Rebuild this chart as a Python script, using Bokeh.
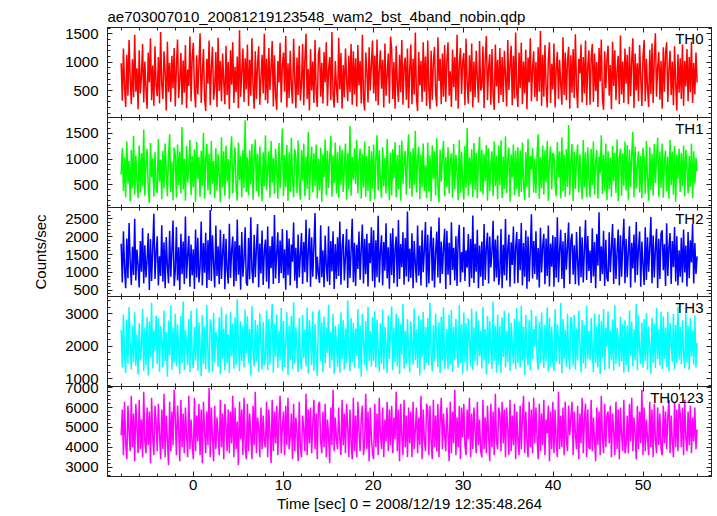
import numpy as np
from bokeh.plotting import figure
from bokeh.layouts import column
from bokeh.models import Range1d, LinearAxis, SingleIntervalTicker, Label
from bokeh.embed import file_html
from bokeh.resources import INLINE

TITLE = "ae703007010_20081219123548_wam2_bst_4band_nobin.qdp"
XLABEL = "Time [sec] 0 = 2008/12/19 12:35:48.264"
YLABEL = "Counts/sec"
band_names = ["TH0", "TH1", "TH2", "TH3", "TH0123"]
band_colors = ["#ff0000", "#00ff00", "#0000ff", "#00ffff", "#ff00ff"]
t_start, t_end = -8.0, 56.0
x_limits = (-9.52, 57.6)
y_limits = [(25, 1610), (60, 1805), (330, 2812), (763, 3532), (2530, 7065)]
y_major = [500, 500, 500, 1000, 1000]
x_major = 10

th0 = np.array("""
980 320 1240 560 210 1130 410 1390 700 260 1050 380 1480 480 890 170
1210 450 760 1320 290 1010 520 180 1170 640 1420 330 940 230 1280 590
400 1090 270 1530 610 350 1190 820 150 1360 470 990 300 1110 540 1250
220 930 1400 370 680 1160 250 1030 460 1300 190 870 580 1450 310 1080
1340 510 200 1120 430 970 1510 280 790 1230 360 140 1060 620 1380 240
900 1270 340 560 1180 210 1430 490 1020 310 1150 660 260 1290 420 1000
170 1210 600 1350 280 920 470 1100 190 1560 390 830 1240 300 1070 520
1310 230 1040 410 1420 580 180 1190 350 960 1280 250 720 1130 450 1500
330 1060 270 1250 510 890 1370 220 1120 430 160 1020 640 1340 290 940
1170 480 1460 200 980 370 1200 560 270 1410 740 190 1080 420 1290 320
610 1320 240 1050 1500 350 880 150 1230 500 1010 280 1390 460 210 1140
1260 390 990 270 1180 640 1350 230 870 1090 330 1530 410 200 1020 560
280 1430 520 1160 180 950 380 1240 700 310 1110 470 1320 250 1190 430
1070 220 1300 590 1020 270 1480 360 150 1170 830 290 1260 500 960 1380
450 1110 310 1400 240 860 1210 530 1040 200 1330 410 780 1150 270 1450
1220 350 1000 180 1290 620 300 1130 470 1390 250 920 1080 340 1240 190
870 1310 260 1060 430 1520 370 140 1180 590 1020 300 1350 480 1100 230
1380 510 170 1200 340 990 1270 450 220 1440 670 1060 260 1150 390 1300
300 1030 1350 410 840 210 1220 560 1090 320 1480 180 960 1250 440 1010
1160 240 1410 630 270 1120 480 1330 200 1010 380 1200 720 290 1370 500
560 1280 190 1050 1460 330 900 1140 250 1230 430 160 1310 570 1040 280
1250 420 1090 300 1200 760 220 1390 510 950 1290 240 1110 360 1520 470
210 1170 540 1340 260 1010 450 1220 170 1080 640 1420 310 880 1190 380
1000 310 1260 480 1550 230 1130 390 1300 570 200 1050 1350 280 970 520
1330 200 890 1180 350 1040 610 250 1440 420 1170 330 1020 1270 180 1120
460 1230 370 1490 560 190 1060 800 1310 290 1090 450 1380 240 930 1210
250 1080 1320 300 1150 490 1000 210 1250 660 1400 350 160 1190 540 1040
1290 410 950 170 1360 580 1210 330 860 1110 260 1470 430 1010 280 1240
620 1130 260 1270 400 1030 1420 190 1150 500 980 310 1300 720 230 1100
1390 310 1060 550 210 1220 440 1330 280 1070 1510 390 900 1180 340 1020
180 1260 480 1160 1350 300 870 1200 420 1010 240 1280 610 150 1140 460
1070 350 1310 230 1020 570 1230 310 1090 470 1360 280 990 430 1170 640
""".split(), dtype=float)

th1 = np.array("""
700 1210 380 1030 260 1340 520 960 180 1180 430 1450 310 1070 590 240
1260 350 1110 470 1570 290 880 1200 410 150 1310 640 1020 270 1130 460
340 1390 560 990 220 1160 430 1300 760 280 1050 1480 360 950 200 1220
1080 250 1280 490 1140 330 1620 410 1010 190 1250 540 850 1370 300 1060
450 1190 170 1330 620 1040 270 1160 480 1510 230 980 1290 390 1100 310
1350 520 960 240 1210 390 1090 700 160 1420 450 1150 290 1260 560 1000
220 1120 1440 330 870 1230 420 190 1320 590 1060 260 1180 440 1750 360
1030 300 1170 510 1290 210 990 1380 380 1100 270 1240 660 180 1130 470
1460 400 820 1150 250 1350 540 1020 320 1200 780 230 1310 430 970 1590
280 1080 460 1270 190 1130 370 1410 600 260 1190 1030 340 1360 500 210
1170 580 1300 280 1050 420 1530 200 900 1240 350 1110 470 1280 240 1010
390 1220 170 1090 640 1380 300 1160 440 990 1450 270 1070 530 1320 330
1130 250 1260 490 1180 360 820 1300 210 1120 410 1640 290 1040 600 1210
510 1370 330 970 1200 230 1100 450 1340 270 1060 380 1250 180 1150 420
1280 220 1010 1460 390 1170 560 250 1230 470 1020 330 1390 710 200 1120
300 1190 630 1330 260 1080 410 1270 190 1360 520 950 1160 310 1050 1480
430 1140 270 1210 500 1550 350 1000 1240 220 1090 450 1300 380 880 240
1320 370 1070 180 1260 620 1150 300 1400 480 160 1180 560 1030 1350 280
1040 460 1230 330 960 1110 250 1290 410 1080 740 200 1370 340 1140 520
210 1250 440 1600 290 1030 510 1190 260 1310 400 1120 240 1000 1430 370
1180 310 1100 570 1270 190 1210 380 880 1150 280 1340 470 1070 220 1260
490 1360 240 1050 420 1440 330 990 1220 170 1090 640 1280 300 1160 410
1230 270 1170 360 1320 520 200 1130 460 1390 250 1060 800 1210 350 1010
340 1100 1480 230 1040 430 1260 310 1170 550 1350 190 1000 1240 410 1120
1070 500 280 1330 640 1150 240 1420 380 1080 270 1190 460 1660 300 950
1290 180 1140 420 1010 1280 350 1090 540 220 1370 450 1130 260 1230 590
260 1200 490 1340 310 960 1170 230 1050 720 1460 320 1080 390 1300 200
1150 410 1030 270 1250 570 1120 340 1380 180 1010 1200 290 1110 480 1340
390 1270 210 1180 460 1090 1530 260 1240 430 870 1150 350 1060 240 1220
1010 320 1350 600 190 1230 400 1100 290 1290 530 1020 1410 270 1140 440
1300 250 940 1160 370 1050 230 1370 490 1140 310 1250 170 1090 620 1200
360 1110 470 1260 280 1180 830 330 1060 460 1300 240 1150 520 1030 760
""".split(), dtype=float)

th2 = np.array("""
1800 720 2150 1100 560 1950 840 2380 1300 650 1720 930 2500 780 1640 1200
580 1880 1020 2240 690 1760 860 1350 2090 510 1930 760 1680 2640 820 1540
2010 640 1450 900 2320 740 1840 560 1990 1180 700 2160 880 1610 2450 620
1040 2270 780 1700 510 2080 950 1860 680 2560 830 1490 2020 600 1780 920
1650 540 2200 860 1970 720 1150 2420 640 1820 990 2110 570 1900 790 2740
760 2040 1250 580 2310 900 1730 670 2190 820 1560 2070 530 1940 1080 690
2360 850 1620 2000 610 1870 760 2480 940 1760 520 2130 880 1380 2260 710
630 1960 810 2540 1060 700 2050 870 1680 2350 590 1810 970 2170 650 1590
1920 740 2280 550 1740 1120 2010 680 2600 830 1530 2120 710 1890 980 2210
840 1650 520 2180 920 1950 640 1780 1300 2390 770 1690 560 2060 860 1500
2100 680 1850 1010 2470 730 1590 2230 600 1980 880 1720 2660 810 1440 940
710 2320 870 1620 590 2030 1180 750 2290 650 1880 1030 2150 540 1790 820
1980 900 2420 660 1710 2070 780 1430 2210 570 1920 850 1600 2500 730 1830
620 1770 1100 2140 800 1660 2340 690 1940 950 2080 610 1820 1260 2260 760
2180 580 1900 870 2580 720 1580 2040 640 1850 1050 2370 830 1700 550 2090
930 2230 700 1640 2000 600 2460 820 1790 1150 2120 660 1960 890 2700 740
1670 850 2090 560 1880 1240 720 2310 910 1750 640 2180 1010 1620 2410 590
2050 690 1730 2280 770 1970 580 1560 2140 860 2530 700 1860 960 1680 2220
540 2160 940 1830 650 2400 1070 1690 780 2010 620 1910 2330 730 1570 1000
2270 760 1620 1130 2070 600 1940 840 2590 710 1800 1020 2190 560 1750 880
1860 620 2350 800 1690 2110 690 2000 1140 1580 2440 750 1920 860 2030 650
970 2210 560 1770 920 2490 780 1650 2060 600 1840 1210 2280 690 1710 2130
710 1930 1060 2380 640 1820 880 2170 550 2000 740 1590 2620 830 1880 960
2150 800 1680 580 2250 1000 1740 2080 670 1950 900 2310 610 1810 1160 2040
600 1990 850 2540 730 1620 2190 820 1870 560 2100 1080 1700 2390 680 1900
2080 940 1760 670 2130 1270 640 2280 870 1980 720 1650 2460 790 2020 1040
1610 710 2230 890 1850 560 2070 1190 2680 760 1730 950 2160 620 1910 840
750 2120 1010 1690 2350 680 1960 820 1580 2200 640 2040 880 1770 2500 700
1940 870 1600 2290 580 1830 1110 2060 720 2410 930 1670 2140 600 1860 1220
650 2260 790 1980 1020 1720 2550 700 2030 860 1640 2220 570 1940 820 2090
2180 1060 1790 620 2370 900 1710 2100 680 1880 1150 2270 750 2010 640 1620
880 1970 720 2200 1000 1750 610 2130 840 1900 1280 2350 690 1820 960 1450
""".split(), dtype=float)

th3 = np.array("""
2500 1350 2980 1700 1180 2820 1460 3210 2050 1290 2640 1520 3050 1400 2370 1130
2710 1570 1960 3150 1240 2580 1410 2900 1100 2760 1650 3340 1320 2490 1880 2950
1450 2870 1210 2620 2150 1360 3100 1530 2440 1060 2790 1720 3260 1280 2560 1500
3000 1390 2680 1820 1150 2930 1480 3380 1270 2510 2040 1420 2850 1200 3090 1630
1330 2590 1560 3170 1250 2740 1960 1080 2960 1440 2610 1300 3270 1780 1190 2830
2640 1220 3030 1510 2450 2210 1370 2890 1140 3200 1600 2550 1260 2990 1470 2380
1170 3060 1690 2700 1310 2890 1430 3450 2110 1230 2770 1540 2620 1350 3130 1780
2920 1480 2530 1100 3240 1850 1380 2810 1520 2660 1200 3020 2000 1290 2750 1410
1620 3110 1260 2850 1450 2570 3300 1190 2700 1680 2980 1340 2490 1560 3180 1240
2780 1360 2150 3050 1120 2640 1590 2930 1300 3360 1470 2580 1900 1210 2880 1500
1280 2960 1640 2520 1390 3190 1160 2800 2260 1420 3070 1250 2690 1730 1090 3000
3120 1530 2740 1200 2910 1460 2580 1790 3280 1330 2450 1570 2990 1140 2620 2080
1370 2680 1190 3040 1600 2800 1280 2550 1480 3410 1820 1230 2870 1510 2720 1340
2550 1700 3150 1310 2640 1060 2990 2170 1420 2780 1250 3220 1550 2470 1380 2900
1540 3080 1350 2820 1930 1220 2710 1460 3130 1290 2600 2020 1170 2950 1610 2510
3230 1260 2560 1500 3010 1390 2870 1150 2690 1740 3310 1310 2480 1450 2840 1870
1200 2760 2090 1430 3170 1580 2520 1330 2940 1100 2820 1650 3060 1270 2590 1490
2880 1410 3350 1720 1230 2650 1520 3000 2130 1360 2740 1180 2910 1560 3200 1300
1660 2530 1290 2970 1440 3120 1210 2600 1580 2850 1800 1340 3270 1470 2680 1150
3040 1500 2710 1240 2860 2200 1380 3160 1270 2570 1530 3080 1410 2790 1690 2480
1320 3210 1580 2540 1130 2930 1460 2780 1950 1300 3370 1550 2630 1190 2970 1420
2620 1180 2890 1670 3100 1350 2480 1510 3030 1240 2720 2060 1460 2850 1300 3180
1490 2760 1350 3250 1560 2590 1120 2960 1770 1410 2800 1260 3120 1600 2530 1990
2930 1630 1270 2750 1480 3040 1910 1330 2660 1540 3190 1220 2880 1380 2600 1510
1250 3150 1520 2680 2230 1440 3330 1170 2840 1620 2510 1370 3000 1730 1280 2900
2700 1400 2960 1290 2550 1560 3090 2040 1200 2810 1470 2650 1310 3240 1600 2480
1560 2870 1850 1210 3010 1480 2620 1350 2980 1140 2770 1640 3150 1270 2560 1990
3070 1310 2490 1590 2830 1250 3260 1460 2570 2150 1370 2910 1530 2680 1190 2800
1420 2640 1210 3110 1700 2760 1380 2520 1570 3300 1260 2950 1860 1450 2730 1330
2840 1540 3020 1280 2610 1970 1150 2880 1490 2690 1330 3180 1610 2540 1410 3070
1300 2920 1610 2570 1360 3060 1230 2720 2110 1520 2990 1280 2660 1470 3220 1590
2590 1450 2800 1760 1320 3010 1500 2630 1270 2860 1680 2500 1430 2940 1350 2100
""".split(), dtype=float)

th0123 = np.array("""
4600 5900 3600 6300 4200 3400 6100 4800 3800 6600 4000 5700 3300 6200 5000 3700
6400 3900 5400 3500 6800 4300 3700 6000 4100 5800 3200 6500 4500 3600 6100 5200
3800 6200 4700 3400 5900 3900 6700 3500 5600 4400 3100 6300 3800 5800 4100 6900
5500 3600 6100 4900 3300 6400 4000 5700 3700 6000 4600 3500 6600 3900 5400 4200
3400 6500 3800 5600 4300 6200 3600 5900 3200 6300 4800 3700 5800 4100 7000 3500
6000 4500 3300 6100 3900 5500 4700 3600 6400 4000 5700 3400 6200 5100 3800 5900
3700 5800 4200 6600 3500 6000 3900 5300 3100 6300 4400 5900 3600 6500 4000 3400
6200 3800 5700 4600 3400 6100 4100 6800 3700 5500 5000 3500 6000 3900 5600 4300
4000 6300 3500 5900 4800 3200 6400 3800 5800 4200 6100 3600 5400 6600 3700 5000
5800 3600 6100 4100 6500 3900 4500 5700 3400 6200 3800 5500 4700 3300 6300 4000
3500 5600 4900 3800 6700 3600 5900 4200 6000 3700 5200 6400 3900 5700 3400 6100
6300 4300 3700 5800 4000 6200 3500 5400 4600 3200 6000 4100 6900 3800 5500 4400
3900 6000 4400 3600 6400 4100 5700 3700 6200 5000 3500 5900 4200 3400 6500 3800
5600 3500 6300 4800 3800 5500 6100 3600 4200 6700 3900 5800 3300 6000 4500 3700
3400 6200 4000 5700 3600 6500 4700 3900 6000 3500 5400 4300 6300 3800 5900 4100
6100 3700 5500 4400 6800 3800 5900 3300 6200 4600 3600 6400 4000 5600 3500 6000
4200 5800 3500 6300 3900 4900 6000 3700 5500 4100 6600 3400 5900 4400 3800 6200
5900 3600 6100 4300 3400 6400 4000 5600 3800 6200 3500 5300 6500 3900 5700 4600
3800 6000 4700 3300 6300 3700 5800 4200 6900 3600 5500 4000 6100 3400 6000 4500
6200 4100 3600 5900 4400 6500 3500 5700 3900 6000 4800 3700 6300 4100 5400 3800
3500 6400 3900 5500 3700 6100 4600 3300 6200 4000 5800 3600 6700 4300 3900 6000
5700 3800 6300 4200 5900 3500 6000 4900 3600 6400 3800 5600 4100 6200 3400 5800
4400 3600 6100 3900 5500 6600 3700 5800 4300 3500 6300 4000 5900 3700 6500 4200
6000 4500 3400 6200 3800 5700 4100 6400 3600 5400 4700 6100 3300 5800 3900 6300
3700 5900 4300 3500 6800 3900 5600 4000 6000 3600 6300 4400 3800 6100 4600 5500
6300 3600 5800 4700 3900 6100 3400 5700 4200 6500 3700 5400 6200 3500 5900 4000
3900 6400 3800 5500 4400 3300 6000 4100 5800 3600 6600 4500 3700 6200 4000 5600
5800 4200 6100 3500 5700 4800 3600 6300 3900 5900 3400 6000 4600 3800 6400 3700
4100 5600 3700 6200 4300 6500 3800 5500 4700 3400 6100 3900 5800 4200 6900 3600
6000 3800 5400 4500 3600 6300 4000 5900 3500 6200 4400 3700 6000 4100 5700 3900
3600 6100 4200 5800 3900 5500 6400 3700 5600 4300 3500 6300 4000 5900 3800 6200
5700 4000 6000 3600 6400 4500 3800 5800 4100 6100 3700 5500 4300 6000 3900 4900
""".split(), dtype=float)

series = [th0, th1, th2, th3, th0123]

FONT = "Liberation Sans"
FS = "15px"
W = 717
PANEL_H = [90, 90, 89, 90, 90]
TOP_B, BOT_B = 27, 40
LEFT_B, RIGHT_B = 107, 6
PAD = 10
AX_COL = "#222222"

xr = Range1d(*x_limits)


def style_axis(ax, show_labels):
    ax.axis_line_color = AX_COL
    ax.axis_line_width = 1
    ax.major_tick_in = 5
    ax.major_tick_out = 0
    ax.minor_tick_in = 3
    ax.minor_tick_out = 0
    ax.major_tick_line_color = AX_COL
    ax.minor_tick_line_color = AX_COL
    if show_labels:
        ax.major_label_text_font = FONT
        ax.major_label_text_font_size = FS
        ax.major_label_text_color = "black"
    else:
        ax.major_label_text_font_size = "0px"
        ax.major_label_text_color = None
        ax.major_label_standoff = 0


figs = []
n = len(series)
for i in range(n):
    vals = series[i]
    lo, hi = y_limits[i]
    tb = TOP_B if i == 0 else PAD
    bb = BOT_B if i == n - 1 else PAD
    p = figure(width=W, height=PANEL_H[i] + tb + bb, x_range=xr,
               y_range=Range1d(lo, hi), output_backend="svg",
               toolbar_location=None,
               x_axis_location=None, y_axis_location=None,
               min_border_left=LEFT_B, min_border_right=RIGHT_B,
               min_border_top=tb, min_border_bottom=bb,
               margin=(0 if i == 0 else -2 * PAD, 0, 0, 0))
    p.grid.visible = False
    p.outline_line_color = AX_COL
    p.outline_line_width = 1
    p.background_fill_color = "white"
    p.border_fill_color = None

    if i == 0:
        p.title.text = TITLE
        p.title.text_font = FONT
        p.title.text_font_size = FS
        p.title.text_font_style = "normal"
        p.title.text_color = "black"
        p.title.align = "left"
        p.title.offset = 0
        p.title.standoff = 5
    else:
        p.title.visible = False

    t = np.linspace(t_start, t_end, len(vals))
    p.line(t, vals, line_color=band_colors[i], line_width=1.5)

    # axes
    xb = LinearAxis(ticker=SingleIntervalTicker(interval=x_major, num_minor_ticks=5))
    style_axis(xb, i == n - 1)
    if i == n - 1:
        xb.major_label_standoff = 3
        xb.axis_label = XLABEL
        xb.axis_label_text_font = FONT
        xb.axis_label_text_font_size = FS
        xb.axis_label_text_font_style = "normal"
        xb.axis_label_text_color = "black"
        xb.axis_label_standoff = 2
    p.add_layout(xb, "below")

    xt = LinearAxis(ticker=SingleIntervalTicker(interval=x_major, num_minor_ticks=5))
    style_axis(xt, False)
    p.add_layout(xt, "above")

    yl = LinearAxis(ticker=SingleIntervalTicker(interval=y_major[i], num_minor_ticks=5))
    style_axis(yl, True)
    yl.major_label_standoff = 9
    if i == 2:
        yl.axis_label = YLABEL
        yl.axis_label_text_font = FONT
        yl.axis_label_text_font_size = FS
        yl.axis_label_text_font_style = "normal"
        yl.axis_label_text_color = "black"
        yl.axis_label_standoff = 13
    p.add_layout(yl, "left")

    yr = LinearAxis(ticker=SingleIntervalTicker(interval=y_major[i], num_minor_ticks=5))
    style_axis(yr, False)
    p.add_layout(yr, "right")

    p.add_layout(Label(x=x_limits[1], y=hi, x_offset=-8, y_offset=-2,
                       text=band_names[i], text_align="right", text_baseline="top",
                       text_font=FONT, text_font_size=FS, text_color="black"))
    figs.append(p)

layout = column(*figs, spacing=0)
open("out.html", "w").write(file_html(layout, INLINE))
